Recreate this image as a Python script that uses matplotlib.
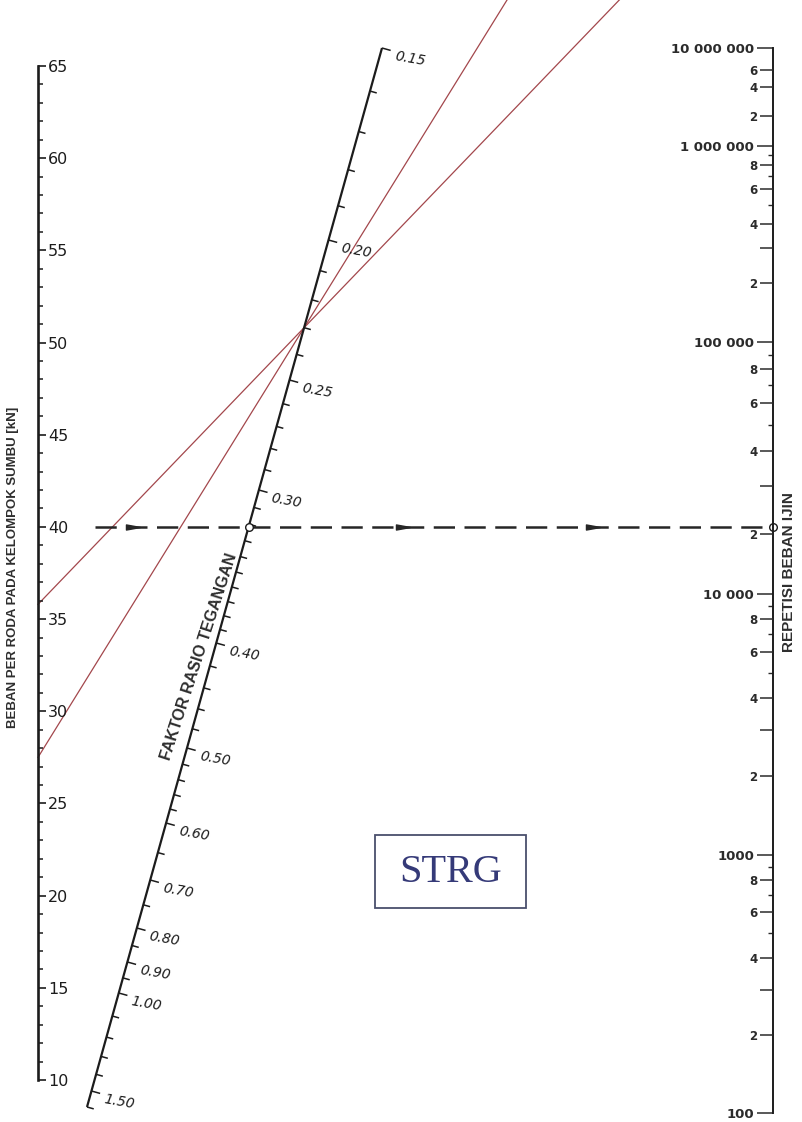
import numpy as np
import matplotlib
matplotlib.use("Agg")
import matplotlib.pyplot as plt
from matplotlib.path import Path
from matplotlib.patches import Rectangle
from matplotlib.collections import LineCollection
from matplotlib.ticker import FixedLocator, FixedFormatter, NullFormatter
from matplotlib.transforms import blended_transform_factory

# ---------------------------------------------------------------
# Nomogram values
# ---------------------------------------------------------------
# Load per wheel of an axle group [kN]
load_major = [10, 15, 20, 25, 30, 35, 40, 45, 50, 55, 60, 65]
load_minor = list(range(10, 66))

# Stress ratio factor
sr_labels = [0.15, 0.20, 0.25, 0.30, 0.40, 0.50, 0.60, 0.70, 0.80, 0.90, 1.00, 1.50]
sr_label_text = ["0.15", "0.20", "0.25", "0.30", "0.40", "0.50", "0.60",
                 "0.70", "0.80", "0.90", "1.00", "1.50"]
sr_ticks = sorted(set(
    list(np.round(np.arange(0.15, 0.40, 0.01), 2)) +
    list(np.round(np.arange(0.40, 0.60, 0.02), 2)) +
    list(np.round(np.arange(0.60, 1.00, 0.05), 2)) +
    list(np.round(np.arange(1.00, 1.61, 0.10), 2))))

# Allowable load repetitions
rep_decades = [100, 1000, 10000, 100000, 1000000, 10000000]
rep_decade_text = ["100", "1000", "10 000", "100 000", "1 000 000", "10 000 000"]
rep_labeled = [200, 300, 400, 600, 800,
               2000, 3000, 4000, 6000, 8000,
               20000, 30000, 40000, 60000, 80000,
               200000, 300000, 400000, 600000, 800000,
               2000000, 4000000, 6000000]
rep_labeled_text = ["2", "", "4", "6", "8"] * 4 + ["2", "4", "6"]
rep_small = [500, 700, 900,
             5000, 7000, 9000,
             50000, 70000, 90000,
             500000, 700000, 900000]

# Worked example (dashed) and the two construction lines (red)
example_load = 40.0
red_loads = [35.8, 27.5]
red_pivot_sr = 0.23

# ---------------------------------------------------------------
# Layout
# ---------------------------------------------------------------
W, H = 802, 1122
fig = plt.figure(figsize=(W / 100, H / 100), dpi=100)
fig.patch.set_facecolor("white")

ax = fig.add_axes([0, 0, 1, 1])
ax.set_xlim(0, W)
ax.set_ylim(H, 0)
ax.axis("off")

INK = "#1c1c1c"
PT = 72 / 100  # points per pixel at 100 dpi

# Left scale: load [kN]
LX, L_TOP, L_BOT = 38, 66, 1080
axL = fig.add_axes([LX / W - 0.01, (H - L_BOT) / H, 0.01, (L_BOT - L_TOP) / H])
axL.set_ylim(10, 65)
axL.patch.set_visible(False)
for s in ["left", "top", "bottom"]:
    axL.spines[s].set_visible(False)
axL.spines["right"].set_linewidth(1.9)
axL.spines["right"].set_color(INK)
axL.set_xticks([])
axL.yaxis.tick_right()
axL.yaxis.set_major_locator(FixedLocator(load_major))
axL.yaxis.set_minor_locator(FixedLocator(load_minor))
axL.tick_params(axis="y", which="major", direction="out", length=8 * PT, width=1.2,
                labelsize=11.5, pad=1.5, colors=INK)
axL.tick_params(axis="y", which="minor", direction="out", length=4.5 * PT, width=1.1,
                colors=INK)
for t in axL.get_yticklabels():
    t.set_family("DejaVu Sans")

# Right scale: allowable repetitions (log spacing, stretched near 2e4 and
# compressed above 1e5)
RX, R_TOP, R_BOT = 773, 48, 1113
REP_LOG = [-12, 2, 3, 4, np.log10(2e4), 5, 6, 7, 20]
REP_H = [-14 * 258, 0, 258, 519, 579, 771, 967, 1065, 1065 + 13 * 98]


def rep_forward(n):
    lg = np.log10(np.maximum(np.asarray(n, dtype=float), 1e-12))
    return np.interp(lg, REP_LOG, REP_H)


def rep_inverse(h):
    return 10.0 ** np.interp(np.asarray(h, dtype=float), REP_H, REP_LOG)


def make_rep_axis():
    a = fig.add_axes([RX / W, (H - R_BOT) / H, 0.01, (R_BOT - R_TOP) / H])
    a.set_yscale("function", functions=(rep_forward, rep_inverse))
    a.set_ylim(100, 1e7)
    a.patch.set_visible(False)
    for s in ["right", "top", "bottom"]:
        a.spines[s].set_visible(False)
    a.set_xticks([])
    return a


REP_INK = "#2b2b2b"
axR = make_rep_axis()
axR.spines["left"].set_linewidth(1.4)
axR.spines["left"].set_color(INK)
axR.yaxis.set_major_locator(FixedLocator(rep_decades))
axR.yaxis.set_major_formatter(FixedFormatter(rep_decade_text))
axR.yaxis.set_minor_locator(FixedLocator(rep_small))
axR.yaxis.set_minor_formatter(NullFormatter())
axR.tick_params(axis="y", which="major", direction="out", length=16 * PT, width=1.1,
                labelsize=9.5, pad=2, colors=REP_INK)
axR.tick_params(axis="y", which="minor", direction="out", length=5 * PT, width=1.0,
                colors=REP_INK)
for t in axR.get_yticklabels():
    t.set_family("DejaVu Sans")
    t.set_fontweight("bold")

axR2 = make_rep_axis()
axR2.spines["left"].set_visible(False)
axR2.yaxis.set_major_locator(FixedLocator(rep_labeled))
axR2.yaxis.set_major_formatter(FixedFormatter(rep_labeled_text))
axR2.yaxis.set_minor_locator(FixedLocator([]))
axR2.tick_params(axis="y", which="major", direction="out", length=13 * PT, width=1.1,
                 labelsize=8.5, pad=2, colors=REP_INK)
for t in axR2.get_yticklabels():
    t.set_family("DejaVu Sans")
    t.set_fontweight("bold")

# Slanted middle scale: stress ratio factor
SR_TOP = np.array([382.0, 48.0])
SR_BOT = np.array([87.0, 1107.0])
SR_KNOTS = [0.15, 0.20, 0.25, 0.30, 0.40, 0.50, 0.60, 0.70, 0.80, 0.90, 1.00, 1.50, 1.60]
SR_KNOT_Y = [48, 240, 380, 490, 643, 748, 823, 880, 928, 962, 993, 1091, 1107]


def sr_x_at(y):
    return SR_TOP[0] + (y - SR_TOP[1]) * (SR_BOT[0] - SR_TOP[0]) / (SR_BOT[1] - SR_TOP[1])


def sr_point(v):
    y = np.interp(np.log(v), np.log(SR_KNOTS), SR_KNOT_Y)
    return np.array([sr_x_at(y), y])


up = (SR_TOP - SR_BOT) / np.linalg.norm(SR_TOP - SR_BOT)
normal = np.array([-up[1], up[0]])  # points to the right of the scale

ax.plot([SR_TOP[0], SR_BOT[0]], [SR_TOP[1], SR_BOT[1]], color=INK, lw=1.6,
        solid_capstyle="butt", zorder=3)
segs = []
for v in sr_ticks:
    p = sr_point(v)
    ln = 9.0 if any(abs(v - s) < 1e-9 for s in sr_labels) else 7.0
    segs.append([p, p + normal * ln])
ax.add_collection(LineCollection(segs, colors=INK, linewidths=1.1, zorder=3))
for v, txt in zip(sr_labels, sr_label_text):
    p = sr_point(v) + normal * 13 + np.array([0, 5])
    ax.text(p[0], p[1], txt, fontsize=10, style="italic", family="DejaVu Sans",
            color=INK, ha="left", va="center", rotation=-10,
            rotation_mode="anchor", zorder=4)


# Helpers mapping scale values onto the drawing
def load_to_canvas(p):
    tr = blended_transform_factory(axL.transAxes, axL.transData)
    return ax.transData.inverted().transform(tr.transform((1, p)))


# Construction lines through the pivot on the stress ratio scale
pivot = sr_point(red_pivot_sr)
for p_load in red_loads:
    start = load_to_canvas(p_load)
    t_end = (0 - start[1]) / (pivot[1] - start[1])
    end = start + t_end * (pivot - start)
    ax.plot([start[0], end[0]], [start[1], end[1]], color="#a3474c", lw=0.9,
            zorder=2)

# Worked example: dashed line from the load scale to the repetition scale
ey = load_to_canvas(example_load)[1]
ax.plot([95, RX], [ey, ey], color="#262626", lw=1.8, dashes=(8.5, 3.8),
        zorder=2)
arrow = Path([(-1.6, -0.45), (0.9, 0), (-1.6, 0.45), (-1.6, -0.45)],
             [Path.MOVETO, Path.LINETO, Path.LINETO, Path.CLOSEPOLY])
ax.plot([135, 405, 595], [ey] * 3, linestyle="none", marker=arrow,
        markersize=13, color="#262626", zorder=3)
ax.plot([sr_x_at(ey), RX], [ey, ey], linestyle="none", marker="o",
        markersize=5.5, mfc="white", mec=INK, mew=1.0, zorder=5)

# Scale titles
ax.text(13, 567, "BEBAN PER RODA PADA KELOMPOK SUMBU [kN]", rotation=90,
        ha="center", va="center", fontsize=9.5, fontweight="bold",
        family="Liberation Sans", color="#2e2e2e")
ax.text(789, 572, "REPETISI BEBAN IJIN", rotation=90, ha="center",
        va="center", fontsize=11, fontweight="bold",
        family="Liberation Sans", color="#2e2e2e")
ax.text(199, 657, "FAKTOR RASIO TEGANGAN", rotation=72, ha="center",
        va="center", fontsize=11.5, fontweight="bold",
        family="Liberation Sans", color="#2e2e2e", rotation_mode="anchor")

# Label box
ax.add_patch(Rectangle((375, 835), 151, 73, fill=False, edgecolor="#4a4f6c",
                       lw=1.3, zorder=3))
ax.text(450.5, 872, "STRG", ha="center", va="center", fontsize=29,
        family="Liberation Serif", color="#353a78", zorder=4)

fig.savefig("out.png", dpi=100, facecolor="white")
